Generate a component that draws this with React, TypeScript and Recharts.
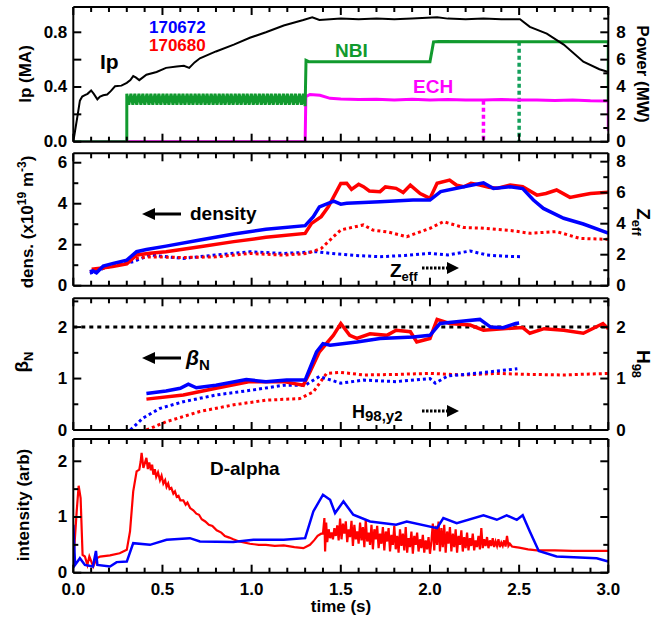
import React from "react";
import { ComposedChart, Line, XAxis, YAxis, ReferenceLine } from "recharts";

type P = [number, number];

const FONT = "'Liberation Sans', Arial, Helvetica, sans-serif";
const BLUE = "#0000ff";
const RED = "#ff0000";
const GREEN = "#119a2e";
const GREEN2 = "#14a05c";
const MAGENTA = "#ff00ff";

// time axis (s)
const xTicks = [0, 0.1, 0.2, 0.3, 0.4, 0.5, 0.6, 0.7, 0.8, 0.9, 1.0, 1.1, 1.2, 1.3, 1.4, 1.5, 1.6, 1.7, 1.8, 1.9, 2.0,
  2.1, 2.2, 2.3, 2.4, 2.5, 2.6, 2.7, 2.8, 2.9, 3.0];

// ---- panel 1 : Ip (MA) / Power (MW)
const ip: P[] = [[0, 0], [0.01, 0.08], [0.025, 0.2], [0.037, 0.3], [0.05, 0.33], [0.065, 0.34], [0.08, 0.35], [0.1, 0.375],
  [0.115, 0.35], [0.135, 0.31], [0.15, 0.33], [0.168, 0.34], [0.19, 0.345], [0.21, 0.37], [0.234, 0.405], [0.27, 0.41],
  [0.3, 0.43], [0.32, 0.45], [0.336, 0.48], [0.35, 0.47], [0.37, 0.45], [0.41, 0.49], [0.467, 0.51], [0.52, 0.54],
  [0.58, 0.55], [0.62, 0.555], [0.65, 0.54], [0.68, 0.58], [0.71, 0.61], [0.8, 0.66], [0.9, 0.71], [0.99, 0.76],
  [1.08, 0.8], [1.18, 0.85], [1.29, 0.89], [1.34, 0.91], [1.38, 0.89], [1.5, 0.9], [1.6, 0.895], [1.7, 0.9],
  [1.8, 0.895], [1.9, 0.9], [2.04, 0.91], [2.1, 0.9], [2.2, 0.895], [2.3, 0.9], [2.4, 0.895], [2.505, 0.895],
  [2.56, 0.84], [2.655, 0.79], [2.75, 0.71], [2.86, 0.585], [2.95, 0.53], [3.0, 0.51]];

const nbiModTimes = [0.3, 0.311, 0.323, 0.334, 0.345, 0.356, 0.368, 0.379, 0.39, 0.401, 0.413, 0.424, 0.435, 0.446,
  0.458, 0.469, 0.48, 0.491, 0.503, 0.514, 0.525, 0.536, 0.548, 0.559, 0.57, 0.581, 0.593, 0.604, 0.615, 0.626, 0.638,
  0.649, 0.66, 0.671, 0.683, 0.694, 0.705, 0.716, 0.728, 0.739, 0.75, 0.761, 0.773, 0.784, 0.795, 0.806, 0.818, 0.829,
  0.84, 0.851, 0.863, 0.874, 0.885, 0.896, 0.908, 0.919, 0.93, 0.941, 0.953, 0.964, 0.975, 0.986, 0.998, 1.009, 1.02,
  1.031, 1.043, 1.054, 1.065, 1.076, 1.088, 1.099, 1.11, 1.121, 1.133, 1.144, 1.155, 1.166, 1.178, 1.189, 1.2, 1.211,
  1.223, 1.234, 1.245, 1.256, 1.268, 1.279, 1.29];
const nbiModPower = [3.5, 2.7, 3.5, 2.7, 3.5, 2.7, 3.5, 2.7, 3.5, 2.7, 3.5, 2.7, 3.5, 2.7, 3.5, 2.7, 3.5, 2.7, 3.5, 2.7,
  3.5, 2.7, 3.5, 2.7, 3.5, 2.7, 3.5, 2.7, 3.5, 2.7, 3.5, 2.7, 3.5, 2.7, 3.5, 2.7, 3.5, 2.7, 3.5, 2.7, 3.5, 2.7, 3.5, 2.7,
  3.5, 2.7, 3.5, 2.7, 3.5, 2.7, 3.5, 2.7, 3.5, 2.7, 3.5, 2.7, 3.5, 2.7, 3.5, 2.7, 3.5, 2.7, 3.5, 2.7, 3.5, 2.7, 3.5, 2.7,
  3.5, 2.7, 3.5, 2.7, 3.5, 2.7, 3.5, 2.7, 3.5, 2.7, 3.5, 2.7, 3.5, 2.7, 3.5, 2.7, 3.5, 2.7, 3.5, 2.7, 3.5];
const nbiStart: P[] = [[0, 0], [0.3, 0]];
const nbiRest: P[] = [[1.3, 2.6], [1.305, 5.95], [1.32, 5.85], [2.0, 5.85], [2.02, 7.3], [2.05, 7.32], [3.0, 7.3], [3.0, 3.0]];
const nbi672Off: P[] = [[2.5, 7.3], [2.5, 0]];

const ech: P[] = [[0, 0], [1.3, 0], [1.304, 3.29], [1.327, 3.45], [1.383, 3.4], [1.44, 3.17], [1.5, 3.12], [1.6, 3.08],
  [1.7, 3.1], [1.8, 3.05], [1.9, 3.1], [2.0, 3.05], [2.1, 3.08], [2.2, 3.05], [2.3, 3.05], [2.4, 3.08], [2.5, 3.05],
  [2.6, 3.05], [2.7, 3.02], [2.8, 3.05], [2.9, 3.0], [3.0, 2.98], [3.0, 0.8]];
const ech672Off: P[] = [[2.3, 3.0], [2.3, 0]];

// ---- panel 2 : density (1e19 m^-3) / Zeff
const densBlue: P[] = [[0.093, 0.68], [0.11, 0.72], [0.13, 0.63], [0.168, 0.96], [0.224, 1.09], [0.3, 1.25], [0.355, 1.66],
  [0.41, 1.77], [0.52, 1.93], [0.71, 2.23], [0.9, 2.52], [1.08, 2.75], [1.3, 2.93], [1.346, 3.37], [1.38, 3.85],
  [1.46, 4.13], [1.5, 3.98], [1.533, 4.02], [1.72, 4.1], [1.905, 4.18], [2.0, 4.18], [2.06, 4.59], [2.19, 4.83],
  [2.3, 5.02], [2.356, 4.74], [2.45, 4.83], [2.52, 4.74], [2.58, 4.18], [2.636, 3.77], [2.75, 3.29], [2.86, 3.01],
  [3.0, 2.56]];
const densRed: P[] = [[0.103, 0.8], [0.15, 0.85], [0.22, 0.93], [0.3, 1.06], [0.355, 1.5], [0.43, 1.58], [0.52, 1.66],
  [0.71, 1.9], [0.9, 2.15], [1.08, 2.36], [1.3, 2.55], [1.336, 3.04], [1.39, 3.37], [1.43, 3.85], [1.5, 4.99],
  [1.533, 5.0], [1.56, 4.7], [1.6, 4.95], [1.627, 4.83], [1.66, 4.62], [1.72, 4.59], [1.75, 4.82], [1.81, 4.75],
  [1.85, 4.55], [1.89, 4.91], [1.945, 4.5], [2.0, 4.26], [2.04, 5.0], [2.11, 5.15], [2.15, 4.9], [2.19, 4.83],
  [2.23, 5.0], [2.28, 4.91], [2.33, 4.8], [2.375, 4.75], [2.45, 4.91], [2.52, 4.83], [2.6, 4.42], [2.65, 4.5],
  [2.71, 4.67], [2.785, 4.31], [2.84, 4.4], [2.9, 4.5], [3.0, 4.56]];
const zeffRed: P[] = [[0.093, 0.9], [0.206, 1.23], [0.336, 1.76], [0.43, 1.86], [0.617, 1.82], [0.8, 1.86], [0.99, 2.08],
  [1.18, 1.97], [1.31, 2.08], [1.39, 2.4], [1.458, 3.15], [1.5, 3.6], [1.56, 3.75], [1.627, 3.92], [1.68, 3.59],
  [1.77, 3.45], [1.87, 3.16], [2.0, 3.7], [2.075, 4.13], [2.19, 3.75], [2.28, 3.72], [2.375, 3.63], [2.46, 3.55],
  [2.56, 3.38], [2.71, 3.49], [2.84, 3.05], [3.0, 2.99]];
const zeffBlue: P[] = [[0.093, 0.8], [0.206, 1.27], [0.336, 1.55], [0.43, 1.98], [0.617, 1.76], [0.8, 1.98], [0.99, 2.19],
  [1.18, 2.08], [1.364, 2.19], [1.44, 2.09], [1.58, 1.95], [1.72, 1.87], [1.86, 1.95], [2.0, 2.09], [2.1, 1.98],
  [2.225, 2.24], [2.32, 1.98], [2.42, 1.9], [2.515, 1.87]];

// ---- panel 3 : betaN / H98
const betaBlue: P[] = [[0.41, 0.71], [0.52, 0.76], [0.6, 0.81], [0.645, 0.89], [0.69, 0.82], [0.8, 0.87], [0.97, 0.98],
  [1.08, 0.94], [1.196, 0.97], [1.3, 0.97], [1.327, 1.2], [1.364, 1.52], [1.4, 1.68], [1.44, 1.65], [1.59, 1.71],
  [1.72, 1.78], [1.907, 1.81], [2.0, 1.84], [2.056, 2.07], [2.19, 2.12], [2.28, 2.15], [2.34, 2.0], [2.41, 1.99],
  [2.48, 2.07], [2.5, 2.08]];
const betaRed: P[] = [[0.41, 0.6], [0.617, 0.68], [0.8, 0.81], [0.99, 0.94], [1.18, 0.94], [1.29, 0.87], [1.327, 1.13],
  [1.38, 1.52], [1.458, 1.84], [1.5, 2.07], [1.55, 1.84], [1.59, 1.78], [1.664, 1.87], [1.758, 1.84], [1.81, 1.94],
  [1.89, 1.91], [1.926, 1.71], [2.0, 1.78], [2.04, 2.15], [2.11, 2.07], [2.225, 2.04], [2.3, 1.94], [2.41, 1.97],
  [2.52, 1.99], [2.56, 1.88], [2.64, 1.97], [2.75, 1.94], [2.86, 1.88], [2.97, 2.07], [3.0, 1.97]];
const h98Blue: P[] = [[0.32, 0], [0.39, 0.23], [0.486, 0.42], [0.617, 0.55], [0.8, 0.68], [1.01, 0.78], [1.18, 0.87],
  [1.3, 0.87], [1.38, 1.04], [1.5, 0.91], [1.627, 0.97], [1.81, 0.94], [2.0, 1.0], [2.03, 0.91], [2.1, 1.05],
  [2.28, 1.11], [2.49, 1.19]];
const h98Red: P[] = [[0.41, 0], [0.52, 0.16], [0.71, 0.36], [0.9, 0.49], [1.08, 0.58], [1.27, 0.61], [1.346, 0.74],
  [1.42, 1.1], [1.5, 1.12], [1.627, 1.07], [1.81, 1.08], [2.0, 1.1], [2.19, 1.07], [2.375, 1.1], [2.56, 1.08],
  [2.75, 1.07], [3.0, 1.1]];
const betaLimit = 2;

// ---- panel 4 : D-alpha (arb)
const dalphaRed: P[] = [[0.0, 0.3], [0.004, 0.38], [0.019, 1.1], [0.03, 1.56], [0.041, 1.34], [0.052, 0.32], [0.065, 0.29],
  [0.079, 0.14], [0.09, 0.29], [0.112, 0.11], [0.131, 0.26], [0.15, 0.29], [0.206, 0.31], [0.26, 0.35], [0.3, 0.41],
  [0.318, 0.74], [0.336, 1.46], [0.355, 1.82], [0.37, 1.85], [0.378, 2.0], [0.383, 2.15], [0.393, 1.88], [0.41, 2.06],
  [0.418, 1.86], [0.426, 1.98], [0.435, 1.84], [0.442, 1.94], [0.449, 1.76], [0.457, 1.86], [0.465, 1.72],
  [0.475, 1.8], [0.486, 1.66], [0.495, 1.74], [0.505, 1.6], [0.515, 1.66], [0.523, 1.54], [0.532, 1.6], [0.54, 1.5],
  [0.55, 1.52], [0.561, 1.42], [0.57, 1.46], [0.58, 1.36], [0.59, 1.38], [0.6, 1.3], [0.617, 1.3], [0.63, 1.22],
  [0.64, 1.26], [0.655, 1.16], [0.673, 1.12], [0.69, 1.06], [0.705, 1.04], [0.72, 0.96], [0.74, 0.92], [0.76, 0.86],
  [0.78, 0.84], [0.804, 0.76], [0.83, 0.72], [0.85, 0.66], [0.875, 0.63], [0.897, 0.6], [0.93, 0.56], [0.95, 0.55],
  [0.99, 0.52], [1.04, 0.5], [1.08, 0.5], [1.13, 0.48], [1.18, 0.49], [1.24, 0.46], [1.29, 0.44], [1.327, 0.5],
  [1.35, 0.58], [1.37, 0.66], [1.39, 0.7],
  [1.4, 0.7], [1.408, 0.98], [1.412, 0.38], [1.418, 0.9], [1.424, 0.55], [1.432, 0.78], [1.44, 0.62], [1.448, 0.72],
  [1.456, 0.6], [1.464, 0.8], [1.472, 0.66], [1.48, 0.85], [1.488, 0.58], [1.496, 0.97], [1.504, 0.6], [1.512, 0.88],
  [1.52, 0.7], [1.528, 0.92], [1.536, 0.55], [1.544, 0.78], [1.552, 0.64], [1.56, 0.93], [1.568, 0.48], [1.576, 0.86],
  [1.584, 0.6], [1.592, 0.74], [1.6, 0.52], [1.608, 0.9], [1.616, 0.58], [1.624, 0.82], [1.632, 0.46], [1.64, 0.95],
  [1.648, 0.56], [1.656, 0.72], [1.664, 0.5], [1.672, 0.86], [1.68, 0.42], [1.688, 0.78], [1.696, 0.6], [1.704, 0.84],
  [1.712, 0.44], [1.72, 0.7], [1.728, 0.52], [1.736, 0.82], [1.744, 0.4], [1.752, 0.74], [1.76, 0.56], [1.768, 0.8],
  [1.776, 0.38], [1.784, 0.68], [1.792, 0.5], [1.8, 0.84], [1.808, 0.42], [1.816, 0.66], [1.824, 0.36], [1.832, 0.78],
  [1.84, 0.48], [1.848, 0.7], [1.856, 0.4], [1.864, 0.82], [1.872, 0.36], [1.88, 0.62], [1.888, 0.46], [1.896, 0.74],
  [1.904, 0.34], [1.912, 0.66], [1.92, 0.5], [1.928, 0.72], [1.936, 0.38], [1.944, 0.6], [1.952, 0.44], [1.96, 0.68],
  [1.968, 0.36], [1.976, 0.58], [1.984, 0.42], [1.992, 0.64], [2.0, 0.34], [2.008, 0.56], [2.016, 0.88], [2.024, 0.4],
  [2.032, 0.84], [2.04, 0.5], [2.048, 0.92], [2.056, 0.38], [2.064, 0.8], [2.072, 0.46], [2.08, 0.86], [2.088, 0.36],
  [2.096, 0.74], [2.104, 0.52], [2.112, 0.82], [2.12, 0.38], [2.128, 0.7], [2.136, 0.46], [2.144, 0.78], [2.152, 0.36],
  [2.16, 0.66], [2.168, 0.5], [2.176, 0.76], [2.184, 0.38], [2.192, 0.64], [2.2, 0.44], [2.208, 0.72], [2.216, 0.4],
  [2.224, 0.62], [2.232, 0.48], [2.24, 0.7], [2.248, 0.4], [2.256, 0.58], [2.264, 0.46], [2.272, 0.66], [2.28, 0.42],
  [2.288, 0.8], [2.296, 0.44], [2.304, 0.6], [2.312, 0.48], [2.32, 0.64], [2.328, 0.44], [2.336, 0.58], [2.344, 0.48],
  [2.352, 0.62], [2.36, 0.46], [2.368, 0.56], [2.376, 0.48], [2.384, 0.6], [2.392, 0.46], [2.4, 0.54], [2.408, 0.48],
  [2.416, 0.58], [2.424, 0.47], [2.432, 0.66], [2.44, 0.48], [2.448, 0.52], [2.46, 0.47], [2.48, 0.46], [2.5, 0.45],
  [2.55, 0.42], [2.6, 0.4], [2.7, 0.4], [2.8, 0.39], [2.9, 0.39], [3.0, 0.39]];
const dalphaBlue: P[] = [[0.0, 0.86], [0.01, 0.14], [0.037, 0.26], [0.065, 0.14], [0.11, 0.11], [0.127, 0.39], [0.135, 0.14],
  [0.206, 0.11], [0.243, 0.19], [0.3, 0.2], [0.336, 0.53], [0.43, 0.5], [0.523, 0.59], [0.654, 0.62], [0.71, 0.56],
  [0.897, 0.55], [1.01, 0.59], [1.18, 0.59], [1.3, 0.62], [1.346, 1.1], [1.4, 1.4], [1.44, 1.31], [1.468, 1.07],
  [1.515, 1.28], [1.57, 1.04], [1.664, 0.92], [1.81, 0.86], [1.87, 0.92], [2.04, 0.8], [2.075, 0.98], [2.15, 0.89],
  [2.3, 1.03], [2.375, 0.95], [2.43, 1.03], [2.487, 0.95], [2.52, 1.03], [2.56, 0.74], [2.61, 0.39], [2.71, 0.29],
  [2.935, 0.26], [3.0, 0.2]];

const pts = (a: P[]) => a.map(([t, v]) => ({ t, v }));
const nbiData = [
  ...pts(nbiStart),
  ...nbiModTimes.map((t, i) => ({ t, v: nbiModPower[i] })),
  ...pts(nbiRest),
];

const isMult = (v: number, step: number) => Math.abs(v / step - Math.round(v / step)) < 1e-6;

type TickFmt = (v: number) => string | null;

function xTick(side: "top" | "bottom", labels: boolean) {
  return (props: any) => {
    const { x, y, payload } = props;
    const v = payload.value as number;
    const major = isMult(v, 0.5);
    const len = major ? 8 : 5;
    const dir = side === "bottom" ? -1 : 1;
    return (
      <g>
        <line x1={x} y1={y} x2={x} y2={y + dir * len} stroke="#000" strokeWidth={2} />
        {labels && major && (
          <text x={x} y={y + 22} textAnchor="middle" fontFamily={FONT} fontWeight="bold" fontSize={17} fill="#000">
            {v.toFixed(1)}
          </text>
        )}
      </g>
    );
  };
}

function yTick(side: "left" | "right", fmt: TickFmt, majorStep: number) {
  return (props: any) => {
    const { x, y, payload } = props;
    const v = payload.value as number;
    const major = isMult(v, majorStep);
    const len = major ? 8 : 5;
    const dir = side === "left" ? 1 : -1;
    const label = fmt(v);
    return (
      <g>
        <line x1={x} y1={y} x2={x + dir * len} y2={y} stroke="#000" strokeWidth={2} />
        {label !== null && (
          <text x={side === "left" ? x - 6 : x + 8} y={y + 5.5} textAnchor={side === "left" ? "end" : "start"}
            fontFamily={FONT} fontWeight="bold" fontSize={17} fill="#000">
            {label}
          </text>
        )}
      </g>
    );
  };
}

const W = 672;
const H = 619;
const LEFT = 73.3;
const RIGHT = 608.3;

interface PanelProps {
  top: number;
  bottom: number;
  lDomain: [number, number];
  rDomain: [number, number];
  lTicks: number[];
  rTicks: number[];
  lFmt: TickFmt;
  rFmt: TickFmt;
  lMajor: number;
  rMajor: number;
  xLabels?: boolean;
  children: React.ReactNode;
}

function Panel(p: PanelProps) {
  return (
    <div style={{ position: "absolute", left: 0, top: 0 }}>
      <ComposedChart width={W} height={H}
        margin={{ top: p.top - 5, bottom: H - p.bottom - 5, left: LEFT - 40, right: W - RIGHT - 40 }}>
        <XAxis xAxisId="b" type="number" dataKey="t" domain={[0, 3]} allowDataOverflow ticks={xTicks} interval={0}
          orientation="bottom" height={5} tickSize={0} tickMargin={0} tickLine={false}
          axisLine={{ stroke: "#000", strokeWidth: 2 }} tick={xTick("bottom", !!p.xLabels)} />
        <XAxis xAxisId="t" type="number" dataKey="t" domain={[0, 3]} allowDataOverflow ticks={xTicks} interval={0}
          orientation="top" height={5} tickSize={0} tickMargin={0} tickLine={false}
          axisLine={{ stroke: "#000", strokeWidth: 2 }} tick={xTick("top", false)} />
        <YAxis yAxisId="l" orientation="left" type="number" domain={p.lDomain} allowDataOverflow ticks={p.lTicks}
          interval={0} width={40} tickSize={0} tickMargin={0} tickLine={false}
          axisLine={{ stroke: "#000", strokeWidth: 2 }} tick={yTick("left", p.lFmt, p.lMajor)} />
        <YAxis yAxisId="r" orientation="right" type="number" domain={p.rDomain} allowDataOverflow ticks={p.rTicks}
          interval={0} width={40} tickSize={0} tickMargin={0} tickLine={false}
          axisLine={{ stroke: "#000", strokeWidth: 2 }} tick={yTick("right", p.rFmt, p.rMajor)} />
        {p.children}
      </ComposedChart>
    </div>
  );
}

function series(data: any[], axis: "l" | "r", color: string, width: number, dash?: string) {
  return (
    <Line data={data} dataKey="v" xAxisId="b" yAxisId={axis} type="linear" stroke={color} strokeWidth={width}
      strokeDasharray={dash} dot={false} activeDot={false} isAnimationActive={false} />
  );
}

const fmt1 = (labels: number[], digits: number): TickFmt => (v) =>
  labels.some((l) => Math.abs(l - v) < 1e-6) ? v.toFixed(digits) : null;

const txt = { fontFamily: FONT, fontWeight: "bold" as const };

function Annotations() {
  return (
    <svg width={W} height={H} style={{ position: "absolute", left: 0, top: 0, pointerEvents: "none" }}>
      {/* axis titles */}
      <text {...txt} fontSize={17} transform="translate(31,74) rotate(-90)" textAnchor="middle">Ip (MA)</text>
      <text {...txt} fontSize={17} transform="translate(637,74) rotate(90)" textAnchor="middle">Power (MW)</text>
      <text {...txt} fontSize={17} transform="translate(33,222) rotate(-90)" textAnchor="middle">
        dens. (x10<tspan fontSize={12} dy={-7}>19</tspan><tspan dy={7}> m</tspan>
        <tspan fontSize={12} dy={-7}>-3</tspan><tspan dy={7}>)</tspan>
      </text>
      <text {...txt} fontSize={19} transform="translate(637,222) rotate(90)" textAnchor="middle">
        Z<tspan fontSize={13} dy={5}>eff</tspan>
      </text>
      <text {...txt} fontSize={19} transform="translate(28,362) rotate(-90)" textAnchor="middle">
        β<tspan fontSize={13} dy={5}>N</tspan>
      </text>
      <text {...txt} fontSize={19} transform="translate(637,364) rotate(90)" textAnchor="middle">
        H<tspan fontSize={13} dy={5}>98</tspan>
      </text>
      <text {...txt} fontSize={17} transform="translate(29,505) rotate(-90)" textAnchor="middle">intensity (arb)</text>
      <text {...txt} fontSize={17} x={341} y={612} textAnchor="middle">time (s)</text>

      {/* panel 1 */}
      <text {...txt} fontSize={17} x={149} y={33} fill={BLUE}>170672</text>
      <text {...txt} fontSize={17} x={149} y={51} fill={RED}>170680</text>
      <text {...txt} fontSize={21} x={100} y={69}>Ip</text>
      <text {...txt} fontSize={19} x={335} y={57} fill={GREEN}>NBI</text>
      <text {...txt} fontSize={19} x={413} y={93} fill={MAGENTA}>ECH</text>

      {/* panel 2 */}
      <line x1={153} y1={214} x2={181} y2={214} stroke="#000" strokeWidth={3} />
      <polygon points="142,214 155,208 155,220" fill="#000" />
      <text {...txt} fontSize={19} x={190} y={220}>density</text>
      <text {...txt} fontSize={19} x={390} y={277}>Z<tspan fontSize={13} dy={4}>eff</tspan></text>
      <line x1={422} y1={268} x2={448} y2={268} stroke="#000" strokeWidth={3} strokeDasharray="2.5 1.5" />
      <polygon points="459,268 447,262 447,274" fill="#000" />

      {/* panel 3 */}
      <line x1={153} y1={358} x2={181} y2={358} stroke="#000" strokeWidth={3} />
      <polygon points="142,358 155,352 155,364" fill="#000" />
      <text {...txt} fontSize={21} x={186} y={365} fontStyle="italic">β<tspan fontSize={15} dy={5} fontStyle="normal">N</tspan></text>
      <text {...txt} fontSize={18} x={352} y={418}>H<tspan fontSize={15} dy={3}>98,y2</tspan></text>
      <line x1={422} y1={411} x2={448} y2={411} stroke="#000" strokeWidth={3} strokeDasharray="2.5 1.5" />
      <polygon points="459,411 447,405 447,417" fill="#000" />

      {/* panel 4 */}
      <text {...txt} fontSize={19} x={210} y={475}>D-alpha</text>
    </svg>
  );
}

export default function App() {
  return (
    <div style={{ position: "absolute", left: 0, top: 0, width: W, height: H, background: "#fff", fontFamily: FONT }}>
      <Panel top={7} bottom={141.7} lDomain={[0, 0.985]} rDomain={[0, 9.85]}
        lTicks={[0, 0.2, 0.4, 0.6, 0.8]} rTicks={[0, 1, 2, 3, 4, 5, 6, 7, 8, 9]}
        lFmt={fmt1([0, 0.4, 0.8], 1)} rFmt={fmt1([0, 2, 4, 6, 8], 0)} lMajor={0.2} rMajor={2}>
        {series(pts(ech672Off), "r", MAGENTA, 3.5, "4 3")}
        {series(pts(nbi672Off), "r", GREEN2, 3.5, "4 3")}
        {series(pts(ech), "r", MAGENTA, 3)}
        {series(nbiData, "r", GREEN, 3)}
        {series(pts(ip), "l", "#000", 2)}
      </Panel>
      <Panel top={153.3} bottom={285.7} lDomain={[0, 6.46]} rDomain={[0, 8.54]}
        lTicks={[0, 1, 2, 3, 4, 5, 6]} rTicks={[0, 1, 2, 3, 4, 5, 6, 7, 8]}
        lFmt={fmt1([0, 2, 4, 6], 0)} rFmt={fmt1([0, 2, 4, 6, 8], 0)} lMajor={2} rMajor={2}>
        {series(pts(zeffBlue), "r", BLUE, 3, "3 3")}
        {series(pts(zeffRed), "r", RED, 3, "3 3")}
        {series(pts(densRed), "l", RED, 3.5)}
        {series(pts(densBlue), "l", BLUE, 3.5)}
      </Panel>
      <Panel top={298.3} bottom={430} lDomain={[0, 2.56]} rDomain={[0, 2.56]}
        lTicks={[0, 0.5, 1, 1.5, 2, 2.5]} rTicks={[0, 0.5, 1, 1.5, 2, 2.5]}
        lFmt={fmt1([0, 1, 2], 0)} rFmt={fmt1([0, 1, 2], 0)} lMajor={1} rMajor={1}>
        <ReferenceLine y={betaLimit} yAxisId="l" xAxisId="b" stroke="#000" strokeWidth={3} strokeDasharray="4 4" />
        {series(pts(h98Red), "r", RED, 3, "3 3")}
        {series(pts(h98Blue), "r", BLUE, 3, "3 3")}
        {series(pts(betaRed), "l", RED, 3.5)}
        {series(pts(betaBlue), "l", BLUE, 3.5)}
      </Panel>
      <Panel top={439} bottom={572.7} lDomain={[0, 2.4]} rDomain={[0, 2.4]}
        lTicks={[0, 0.5, 1, 1.5, 2]} rTicks={[0, 0.5, 1, 1.5, 2]}
        lFmt={fmt1([0, 1, 2], 0)} rFmt={() => null} lMajor={1} rMajor={1} xLabels>
        {series(pts(dalphaRed), "l", RED, 2.2)}
        {series(pts(dalphaBlue), "l", BLUE, 2.5)}
      </Panel>
      <Annotations />
    </div>
  );
}
